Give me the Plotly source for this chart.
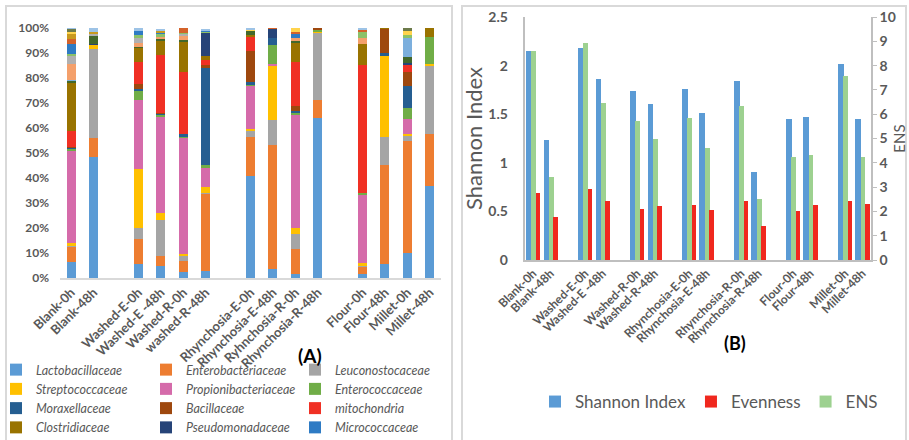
import plotly.graph_objects as go

# ---------------- Panel A data (relative abundance, %) ----------------
samples_A = ["Blank-0h", "Blank-48h",
             "Washed-E-0h", "Washed-E -48h", "Washed-R-0h", "washed-R-48h",
             "Rhynchosia-E-0h", "Rhynchosia-E-48h", "Ryhnchosia-R-0h", "Rhynchosia-R-48h",
             "Flour-0h", "Flour-48h", "Millet-0h", "Millet-48h"]
group_sizes_A = [2, 4, 4, 4]

Lactobacillaceae     = [6.4, 48.3, 5.7, 4.8, 2.4, 2.8, 40.7, 3.6, 1.7, 64.1, 1.7, 5.5, 10.0, 36.7]
Enterobacteriaceae   = [6.0, 7.7, 9.8, 3.9, 4.3, 30.9, 15.6, 49.7, 10.0, 7.0, 2.7, 39.6, 44.8, 21.0]
Leuconostocaceae     = [0.3, 35.8, 4.6, 14.4, 2.4, 0.3, 2.4, 10.0, 5.8, 27.1, 0.4, 11.3, 2.0, 27.1]
Streptococcaceae     = [1.3, 1.6, 23.4, 2.9, 0.6, 2.4, 1.0, 21.8, 2.5, 0.4, 1.2, 32.3, 0.9, 0.7]
Propionibacteriaceae = [36.9, 0, 27.8, 38.4, 46.5, 7.6, 17.1, 0.6, 45.3, 0, 27.3, 0, 6.1, 0]
Enterococcaceae      = [0.8, 0, 3.5, 0.9, 0.3, 1.1, 0.3, 7.4, 0.6, 0.5, 0.7, 0, 4.3, 10.9]
Moraxellaceae        = [0.5, 0, 0.9, 0.4, 1.0, 38.9, 1.3, 2.9, 1.0, 0, 0, 1.4, 8.7, 0]
Bacillaceae          = [0.2, 0, 1.8, 0.5, 0, 1.1, 12.3, 0, 2.0, 0.9, 0, 9.6, 5.6, 0]
mitochondria         = [6.5, 0, 8.9, 23.2, 25.1, 2.0, 5.7, 0, 17.7, 0, 51.4, 0, 2.8, 0]
Clostridiaceae       = [19.1, 0, 5.6, 5.6, 11.9, 1.7, 1.0, 0, 7.6, 0, 8.3, 0.3, 0, 3.6]
Pseudomonadaceae     = [0, 0.4, 0, 0, 0, 9.2, 0, 3.7, 0, 0, 0, 0, 0.9, 0]
other_darkgreen      = [0.8, 3.3, 0.4, 0.6, 0.8, 0, 1.6, 0, 0.7, 0, 0, 0, 2.4, 0]
other_lightblue      = [0.4, 0, 0, 0, 0, 0, 0, 0, 0, 0, 0, 0, 7.6, 0]
other_salmon         = [6.3, 0, 1.6, 0.7, 1.6, 0, 0, 0, 1.3, 0, 2.3, 0, 0, 0]
other_lightgray      = [3.6, 0.6, 2.1, 0, 0.9, 0, 0, 0, 0, 0, 0, 0, 0, 0]
other_lightgreen     = [0.4, 0, 1.2, 1.3, 0.4, 0.4, 0, 0, 0, 0, 2.3, 0, 1.0, 0]
Micrococcaceae       = [4.0, 0, 1.7, 0.7, 0, 0.7, 0, 0, 1.3, 0, 0, 0, 0, 0]
other_darkorange     = [2.3, 0, 0, 0, 1.9, 0, 0, 0.3, 1.0, 0, 0.8, 0, 0, 0]
other_gold           = [2.0, 0.7, 0, 0.7, 0, 0, 0, 0, 0, 0, 0, 0, 0, 0]
other_yellow         = [0.5, 0, 0, 0, 0, 0, 0.5, 0, 1.5, 0, 0, 0, 1.6, 0]
other_olive          = [1.2, 0, 0, 0, 0, 0, 0, 0, 0, 0, 0, 0, 1.3, 0]
other_paleblue       = [1.0, 1.6, 0.9, 0.7, 0, 0.6, 0.5, 0, 0, 0, 0.9, 0, 0, 0]

# (name, values, colour, legend column or None)
families = [
    ("Lactobacillaceae", Lactobacillaceae, "#5B9BD5", 1),
    ("Enterobacteriaceae", Enterobacteriaceae, "#ED7D31", 2),
    ("Leuconostocaceae", Leuconostocaceae, "#A5A5A5", 3),
    ("Streptococcaceae", Streptococcaceae, "#FFC000", 1),
    ("Propionibacteriaceae", Propionibacteriaceae, "#D56BAA", 2),
    ("Enterococcaceae", Enterococcaceae, "#70AD47", 3),
    ("Moraxellaceae", Moraxellaceae, "#255E91", 1),
    ("Bacillaceae", Bacillaceae, "#9E480E", 2),
    ("mitochondria", mitochondria, "#F03024", 3),
    ("Clostridiaceae", Clostridiaceae, "#997300", 1),
    ("Pseudomonadaceae", Pseudomonadaceae, "#264478", 2),
    ("other_darkgreen", other_darkgreen, "#43682B", None),
    ("other_lightblue", other_lightblue, "#7CAFDD", None),
    ("other_salmon", other_salmon, "#F4A06B", None),
    ("other_lightgray", other_lightgray, "#B0B0B0", None),
    ("other_lightgreen", other_lightgreen, "#8CC168", None),
    ("Micrococcaceae", Micrococcaceae, "#2E7BC4", 3),
    ("other_darkorange", other_darkorange, "#D4622A", None),
    ("other_gold", other_gold, "#C99A1E", None),
    ("other_yellow", other_yellow, "#FFD34D", None),
    ("other_olive", other_olive, "#6C7A4A", None),
    ("other_paleblue", other_paleblue, "#9DC3E6", None),
]
pct_ticks = [0, 10, 20, 30, 40, 50, 60, 70, 80, 90, 100]
pct_labels = [f"{v}%" for v in pct_ticks]

# ---------------- Panel B data ----------------
samples_B = ["Blank-0h", "Blank-48h", "Washed-E-0h", "Washed-E -48h", "Washed-R-0h", "Washed-R-48h",
             "Rhynchosia-E-0h", "Rhynchosia-E-48h", "Rhynchosia-R-0h", "Rhynchosia-R-48h",
             "Flour-0h", "Flour-48h", "Millet-0h", "Millet-48h"]
group_sizes_B = [2, 2, 2, 2, 2, 2, 2]
shannon  = [2.15, 1.23, 2.18, 1.86, 1.735, 1.605, 1.755, 1.515, 1.84, 0.91, 1.447, 1.468, 2.02, 1.447]
evenness = [0.686, 0.445, 0.73, 0.607, 0.525, 0.556, 0.566, 0.514, 0.607, 0.35, 0.507, 0.566, 0.607, 0.576]
ens      = [8.6, 3.40, 8.92, 6.45, 5.71, 4.98, 5.83, 4.60, 6.34, 2.50, 4.25, 4.32, 7.57, 4.25]


def with_spacers(labels, sizes, values=None):
    """Insert an empty slot between sample groups (category axis gaps)."""
    out, i, k = [], 0, 0
    for g, n in enumerate(sizes):
        if g > 0:
            k += 1
            out.append(None if values is not None else " " * k)
        for _ in range(n):
            out.append(values[i] if values is not None else labels[i])
            i += 1
    return out


cats_A = with_spacers(samples_A, group_sizes_A)
cats_B = with_spacers(samples_B, group_sizes_B)

GRAY = "#595959"
fig = go.Figure()

for name, vals, color, col in families:
    fig.add_trace(go.Bar(
        x=cats_A, y=with_spacers(samples_A, group_sizes_A, vals), name=name,
        marker=dict(color=color, line=dict(width=0)),
        xaxis="x", yaxis="y",
        showlegend=col is not None,
        legend={1: "legend", 2: "legend2", 3: "legend3"}.get(col, "legend"),
    ))

fig.add_trace(go.Bar(x=cats_B, y=with_spacers(samples_B, group_sizes_B, shannon), name="Shannon Index",
                     marker=dict(color="#5B9BD5", line=dict(width=0)), xaxis="x2", yaxis="y3",
                     offset=-0.40, width=0.32, legend="legend4"))
fig.add_trace(go.Bar(x=cats_B, y=with_spacers(samples_B, group_sizes_B, evenness), name="Evenness",
                     marker=dict(color="#F0281E", line=dict(width=0)), xaxis="x2", yaxis="y5",
                     offset=0.16, width=0.26, legend="legend4"))
fig.add_trace(go.Bar(x=cats_B, y=with_spacers(samples_B, group_sizes_B, ens), name="ENS",
                     marker=dict(color="#9DD190", line=dict(width=0)), xaxis="x2", yaxis="y4",
                     offset=-0.10, width=0.28, legend="legend4"))

W, H = 909, 440
px = lambda v: v / W
py = lambda v: 1 - v / H
tickfont_bold = dict(family="Lato", size=12, color=GRAY, weight="bold")

leg_common = dict(orientation="v", xanchor="left", yanchor="top", bgcolor="rgba(0,0,0,0)",
                  font=dict(family="Lato", size=12.5, color=GRAY, style="italic"),
                  tracegroupgap=0, traceorder="normal")

fig.update_layout(
    width=W, height=H, margin=dict(l=0, r=0, t=0, b=0, autoexpand=False),
    paper_bgcolor="white", plot_bgcolor="white",
    barmode="stack", bargap=0.6,
    font=dict(family="Lato", color=GRAY),
    xaxis=dict(domain=[px(60), px(441)], anchor="y", type="category",
               categoryorder="array", categoryarray=cats_A,
               tickangle=-45, showline=True, linecolor="#D9D9D9", linewidth=1.5,
               ticks="", showgrid=False, tickfont=dict(family="Lato", size=13, color=GRAY, weight="bold")),
    yaxis=dict(domain=[py(278), py(28)], anchor="x", range=[0, 100], tickvals=pct_ticks,
               ticktext=pct_labels, showgrid=False, zeroline=False, showline=False,
               tickfont=tickfont_bold, ticklabelstandoff=10),
    xaxis2=dict(domain=[px(524.5), px(871)], anchor="y3", type="category",
                categoryorder="array", categoryarray=cats_B,
                tickangle=-45, showline=True, linecolor="#BFBFBF", linewidth=1.5,
                ticks="", showgrid=False, tickfont=dict(family="Lato", size=12, color=GRAY, weight="bold")),
    yaxis3=dict(domain=[py(260), py(17)], anchor="x2", range=[0, 2.5], dtick=0.5,
                showgrid=False, zeroline=False, showline=True, linecolor="#BFBFBF", linewidth=1.5,
                tickfont=dict(family="Lato", size=14, color=GRAY, weight="bold"), ticklabelstandoff=12,
                title=dict(text="Shannon Index", font=dict(family="Lato", size=22, color=GRAY), standoff=0)),
    yaxis5=dict(overlaying="y3", anchor="x2", range=[0, 2.5], visible=False),
    yaxis4=dict(overlaying="y3", anchor="x2", side="right", range=[0, 10], dtick=1,
                showgrid=False, zeroline=False, showline=True, linecolor="#BFBFBF", linewidth=1.5,
                ticks="outside", ticklen=4, tickcolor="#BFBFBF",
                tickfont=dict(family="Lato", size=14, color=GRAY, weight="bold"),
                title=dict(text="ENS", font=dict(family="Lato", size=15, color=GRAY), standoff=0)),
    legend=dict(leg_common, x=px(-4), y=py(355)),
    legend2=dict(leg_common, x=px(146), y=py(355)),
    legend3=dict(leg_common, x=px(295), y=py(355)),
    legend4=dict(orientation="h", xanchor="left", yanchor="middle", x=px(535), y=py(402),
                 traceorder="normal", bgcolor="rgba(0,0,0,0)",
                 font=dict(family="Lato", size=17, color=GRAY)),
    annotations=[
        dict(text="<b>(A)</b>", x=px(310), y=py(369), xref="paper", yref="paper", showarrow=False,
             font=dict(family="Lato", size=19, color="black")),
        dict(text="<b>(B)</b>", x=px(748), y=py(356), xref="paper", yref="paper", showarrow=False,
             font=dict(family="Lato", size=18, color="black")),
    ],
    shapes=[
        dict(type="rect", xref="paper", yref="paper", x0=px(6), x1=px(452), y0=-0.1, y1=py(6),
             line=dict(color="#D9D9D9", width=2)),
        dict(type="rect", xref="paper", yref="paper", x0=px(462), x1=px(906), y0=-0.1, y1=py(6),
             line=dict(color="#D9D9D9", width=2)),
    ],
)

fig.write_html("out.html")
